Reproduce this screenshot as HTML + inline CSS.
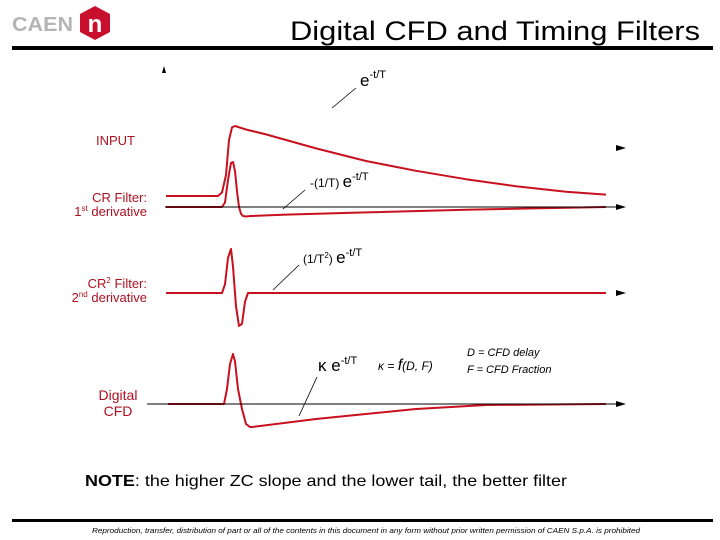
<!DOCTYPE html>
<html><head><meta charset="utf-8"><style>
html,body{margin:0;padding:0;background:#fff;}
svg{display:block;}
text{font-family:"Liberation Sans",sans-serif;}
</style></head><body>
<svg id="chart" width="720" height="540" viewBox="0 0 720 540">
<g>
<text x="12" y="31" font-size="20" font-weight="bold" fill="#b4b4b4" textLength="61" lengthAdjust="spacingAndGlyphs">CAEN</text>
<polygon points="95,6 110,14 110,32 95,40 80,32 80,14" fill="#c8102e"/>
<text x="95" y="32" font-size="24" font-weight="bold" fill="#fff" text-anchor="middle" font-family="Liberation Serif,serif">n</text>
<text x="290" y="40" font-size="27" fill="#000" textLength="410" lengthAdjust="spacingAndGlyphs">Digital CFD and Timing Filters</text>
<rect x="12" y="46" width="701" height="4" fill="#000"/>
</g>
<polygon points="164,66 162,73 166,73" fill="#000"/>
<g id="traces"></g>
<g>
<line x1="165" y1="207" x2="620" y2="207" stroke="#000" stroke-width="1"/>
<line x1="147" y1="404" x2="620" y2="404" stroke="#000" stroke-width="1"/>
<polygon points="626,148 616,145 616,151" fill="#000"/>
<polygon points="626,207 616,204 616,210" fill="#000"/>
<polygon points="626,293 616,290 616,296" fill="#000"/>
<polygon points="626,404 616,401 616,407" fill="#000"/>
</g>
<g fill="#b01020" font-size="13">
<text x="96" y="145">INPUT</text>
<text x="147" y="202" text-anchor="end">CR Filter:</text>
<text x="147" y="216" text-anchor="end">1<tspan font-size="8" dy="-5">st</tspan><tspan dy="5"> derivative</tspan></text>
<text x="147" y="288" text-anchor="end">CR<tspan font-size="8" dy="-5">2</tspan><tspan dy="5"> Filter:</tspan></text>
<text x="147" y="302" text-anchor="end">2<tspan font-size="8" dy="-5">nd</tspan><tspan dy="5"> derivative</tspan></text>
<text x="118" y="400" text-anchor="middle" font-size="14">Digital</text>
<text x="118" y="416" text-anchor="middle" font-size="14">CFD</text>
</g>
<g fill="#000">
<text x="360" y="86" font-size="17">e<tspan font-size="11" dy="-8">-t/T</tspan></text>
<line x1="356" y1="88" x2="332" y2="108" stroke="#000" stroke-width="0.8"/>
<text x="310" y="187" font-size="12">-(1/T) <tspan font-size="17">e</tspan><tspan font-size="11" dy="-7">-t/T</tspan></text>
<line x1="305" y1="190" x2="283" y2="209" stroke="#000" stroke-width="0.8"/>
<text x="303" y="263" font-size="12">(1/T<tspan font-size="8" dy="-5">2</tspan><tspan dy="5">) </tspan><tspan font-size="17">e</tspan><tspan font-size="11" dy="-7">-t/T</tspan></text>
<line x1="299" y1="265" x2="273" y2="290" stroke="#000" stroke-width="0.8"/>
<text x="318" y="371" font-size="17">κ e<tspan font-size="11" dy="-7">-t/T</tspan></text>
<line x1="317" y1="377" x2="299" y2="416" stroke="#000" stroke-width="0.8"/>
<text x="378" y="370" font-size="12" font-style="italic">κ = <tspan font-size="16">f</tspan>(D, F)</text>
<text x="467" y="356" font-size="11" font-style="italic">D = CFD delay</text>
<text x="467" y="373" font-size="11" font-style="italic">F = CFD Fraction</text>
</g>
<text x="85" y="486" font-size="16" fill="#000" textLength="482" lengthAdjust="spacingAndGlyphs"><tspan font-weight="bold">NOTE</tspan>: the higher ZC slope and the lower tail, the better filter</text>
<rect x="12" y="519" width="701" height="3" fill="#000"/>
<text x="92" y="533" font-size="7.5" font-style="italic" fill="#000" textLength="548" lengthAdjust="spacingAndGlyphs">Reproduction, transfer, distribution of part or all of the contents in this document in any form without prior written permission of CAEN S.p.A. is prohibited</text>
</svg>
<script>
const inputT = [0,52,56,60,63,66,69,80,100,150,200,250,300,350,400,440];
const inputV = [0,0,0.05,0.3,0.8,0.98,1.0,0.95,0.88,0.68,0.5,0.36,0.24,0.14,0.06,0.02];
const crT = [0,56,59,62,65,67,69,71,73,75,77,80,85,120,200,300,440];
const crV = [0,0,0.1,0.6,0.98,1,0.8,0.35,0,-0.15,-0.2,-0.21,-0.2,-0.17,-0.12,-0.06,0];
const cr2T = [0,56,59,62,65,67,70,73,76,79,82,85,440];
const cr2V = [0,0,0.2,0.8,1,0.6,-0.3,-0.75,-0.7,-0.2,0,0,0];
const cfdT = [2,58,61,64,67,69,72,76,80,84,86,150,250,320,440];
const cfdV = [0,0,0.3,0.8,1,0.85,0.3,-0.1,-0.4,-0.46,-0.46,-0.3,-0.1,-0.02,0];

function xScale(t){ return 166 + t; }
function yScale(base, amp){ return v => base - v*amp; }
const traces = [
 {name:'trace-input', t:inputT, v:inputV, y:yScale(196,70)},
 {name:'trace-cr', t:crT, v:crV, y:yScale(207,45)},
 {name:'trace-cr2', t:cr2T, v:cr2V, y:yScale(293,44)},
 {name:'trace-cfd', t:cfdT, v:cfdV, y:yScale(404,50)}
];
const g = document.getElementById('traces');
traces.forEach(tr => {
  const pts = tr.t.map((t,i)=>xScale(t)+','+tr.y(tr.v[i])).join(' ');
  const el = document.createElementNS('http://www.w3.org/2000/svg','polyline');
  el.setAttribute('points', pts);
  el.setAttribute('fill','none');
  el.setAttribute('stroke','#c8101e');
  el.setAttribute('stroke-width','2');
  el.setAttribute('stroke-linejoin','round');
  
  
  g.appendChild(el);
});
</script>
</body></html>
